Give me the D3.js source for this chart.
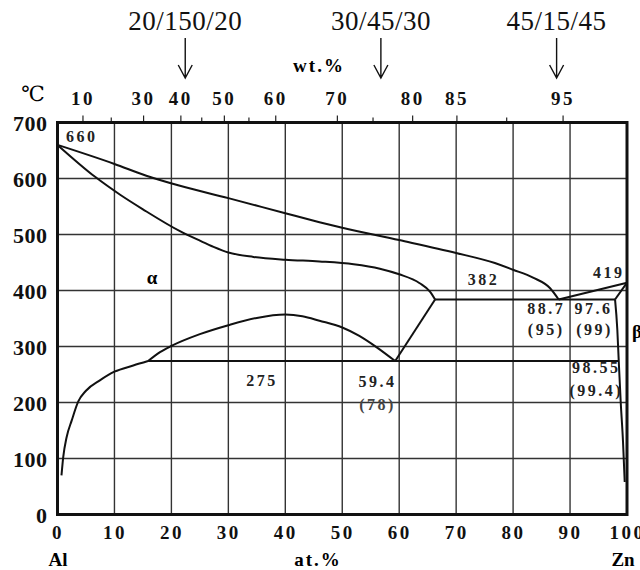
<!DOCTYPE html>
<html>
<head>
<meta charset="utf-8">
<script src="https://cdn.jsdelivr.net/npm/d3@7"></script>
<style>
  body { margin: 0; background: #fff; }
  svg { display: block; font-family: "Liberation Serif", "Times New Roman", serif; }
</style>
</head>
<body>
<svg id="chart" width="640" height="570"></svg>
<script>
// Al-Zn phase diagram (at.% Zn, temperature in C)
const atTicks = [0, 10, 20, 30, 40, 50, 60, 70, 80, 90, 100];
const tempTicks = [0, 100, 200, 300, 400, 500, 600, 700];
const wtMajor = [10, 30, 40, 50, 60, 70, 80, 85, 95];
const wtMinor = [20, 45, 55, 75, 90];

const alloyNames = ["20/150/20", "30/45/30", "45/15/45"];
const alloyWt = [41.2, 76.1, 94.5];

const liquidus = [[0, 660], [10, 626], [15.6, 605], [21.5, 587], [30, 565], [40, 538], [46, 522],
  [50, 512], [60, 490], [70, 467], [76.8, 449], [80, 437], [83.5, 423], [86.5, 404], [88, 384]];
const solidusAl = [[0, 660], [6.6, 603], [11, 571], [15, 545], [21.5, 506], [25, 489], [27.4, 478],
  [30, 468], [34.4, 460], [40, 455], [46, 452], [52, 447], [56.6, 439], [60, 429], [63.6, 413],
  [65.4, 398], [66.3, 384]];
const solvusAl = [[0.7, 70], [1.0, 102], [1.6, 138], [2.5, 168], [3.65, 202], [5, 221], [7.5, 240],
  [10, 255], [13.3, 266], [15.9, 274]];
const gapDome = [[15.9, 274], [18, 290], [20, 301], [25, 322], [30, 338], [35, 351], [40, 357],
  [43, 354], [46, 346], [50, 334], [53, 319], [56, 299], [59.3, 274]];
const eutectoidRise = [[59.3, 274], [66.3, 384]];
const liquidusZn = [[88, 384], [100, 414]];
const solidusZn = [[100, 414], [97.9, 384]];
const solvusZn = [[97.9, 384], [98.3, 330], [98.55, 274], [98.9, 200], [99.3, 130], [99.6, 58]];
const isotherms = [[[66.3, 384], [97.9, 384]], [[15.9, 274], [98.55, 274]]];

// labels inside the plot: [at.%, temperature, text, anchor]
const notes = [
  [1.5, 666, "660", "start"], [74.8, 410, "382", "middle"], [96.8, 423, "419", "middle"],
  [35.9, 229, "275", "middle"], [56.2, 228, "59.4", "middle"], [56.2, 186, "(78)", "middle"],
  [85.8, 358, "88.7", "middle"], [85.8, 320, "(95)", "middle"],
  [94.1, 358, "97.6", "middle"], [94.3, 320, "(99)", "middle"],
  [94.6, 252, "98.55", "middle"], [94.6, 211, "(99.4)", "middle"]
];

const svg = d3.select("#chart");
const x = d3.scaleLinear().domain([0, 100]).range([57.5, 627]);
const y = d3.scaleLinear().domain([0, 700]).range([514.5, 122.5]);

// wt.% Zn -> at.% Zn
const wtToAt = w => {
  const zn = w / 65.38, al = (100 - w) / 26.98;
  return 100 * zn / (zn + al);
};

// grid
svg.append("g").selectAll("line").data(atTicks.slice(1, -1)).join("line")
  .attr("x1", d => x(d)).attr("x2", d => x(d))
  .attr("y1", y(0)).attr("y2", y(700))
  .attr("stroke", "#333").attr("stroke-width", 1.4);
svg.append("g").selectAll("line").data(tempTicks.slice(1, -1)).join("line")
  .attr("y1", d => y(d)).attr("y2", d => y(d))
  .attr("x1", x(0)).attr("x2", x(100))
  .attr("stroke", "#333").attr("stroke-width", 1.4);

// axes
const axLeft = svg.append("g").attr("transform", `translate(${x(0) - 10},0)`)
  .call(d3.axisLeft(y).tickValues(tempTicks).tickSize(0).tickPadding(0));
const axBottom = svg.append("g").attr("transform", `translate(0,${y(0) + 7})`)
  .call(d3.axisBottom(x).tickValues(atTicks).tickSize(0).tickPadding(0));
const axTop = svg.append("g").attr("transform", `translate(0,${y(700)})`)
  .call(d3.axisTop(x).tickValues(wtMajor.map(wtToAt)).tickSize(7).tickPadding(11)
    .tickFormat((d, i) => wtMajor[i]));
const axTopMinor = svg.append("g").attr("transform", `translate(0,${y(700)})`)
  .call(d3.axisTop(x).tickValues(wtMinor.map(wtToAt)).tickSize(5).tickFormat(""));

[axLeft, axBottom, axTop, axTopMinor].forEach(g => {
  g.select(".domain").remove();
  g.selectAll(".tick line").attr("stroke", "#222").attr("stroke-width", 1.2);
  g.selectAll("text").attr("fill", "#111").attr("font-family", "Liberation Serif, serif")
    .attr("font-weight", "bold");
});
axLeft.selectAll("text").attr("font-size", 22).attr("letter-spacing", 0.5).attr("dy", "0.35em");
axBottom.selectAll("text").attr("font-size", 19).attr("letter-spacing", 2.5).attr("dy", "0.9em");
axTop.selectAll("text").attr("font-size", 19).attr("letter-spacing", 2.5).attr("dy", 0);

// frame
svg.append("rect")
  .attr("x", x(0)).attr("y", y(700))
  .attr("width", x(100) - x(0)).attr("height", y(0) - y(700))
  .attr("fill", "none").attr("stroke", "#111").attr("stroke-width", 3);

// phase boundaries
const smooth = d3.line().x(d => x(d[0])).y(d => y(d[1])).curve(d3.curveMonotoneX);
const straight = d3.line().x(d => x(d[0])).y(d => y(d[1]));
const curves = [liquidus, solidusAl, solvusAl, gapDome];
svg.append("g").selectAll("path").data(curves).join("path")
  .attr("d", smooth).attr("fill", "none").attr("stroke", "#111").attr("stroke-width", 2);
svg.append("g").selectAll("path")
  .data([eutectoidRise, liquidusZn, solidusZn, solvusZn, ...isotherms]).join("path")
  .attr("d", d => d.length > 2 ? smooth(d) : straight(d))
  .attr("fill", "none").attr("stroke", "#111").attr("stroke-width", 2);

// point labels
svg.append("g").selectAll("text").data(notes).join("text")
  .attr("x", d => x(d[0])).attr("y", d => y(d[1]))
  .attr("text-anchor", d => d[3])
  .attr("font-size", 16).attr("font-weight", "bold").attr("letter-spacing", 2.5)
  .attr("fill", d => d[2] === "(78)" ? "#444" : "#222")
  .text(d => d[2]);

svg.append("text").attr("x", x(16.6)).attr("y", y(411))
  .attr("text-anchor", "middle").attr("font-size", 19).attr("font-weight", "bold")
  .text("α");
svg.append("text").attr("x", 632).attr("y", 338)
  .attr("font-size", 19).attr("font-weight", "bold").text("β");

// axis names
svg.append("text").attr("x", 33).attr("y", 101).attr("text-anchor", "middle")
  .attr("font-size", 21).attr("font-family", "DejaVu Serif, serif").text("℃");
svg.append("text").attr("x", 319).attr("y", 72).attr("text-anchor", "middle")
  .attr("font-size", 19).attr("font-weight", "bold").attr("letter-spacing", 2).text("wt.%");
svg.append("text").attr("x", 318).attr("y", 566).attr("text-anchor", "middle")
  .attr("font-size", 19).attr("font-weight", "bold").attr("letter-spacing", 2).text("at.%");
svg.append("text").attr("x", 58).attr("y", 566).attr("text-anchor", "middle")
  .attr("font-size", 19).attr("font-weight", "bold").text("Al");
svg.append("text").attr("x", 623).attr("y", 566).attr("text-anchor", "middle")
  .attr("font-size", 19).attr("font-weight", "bold").text("Zn");

// alloy markers on top
const alloys = svg.append("g").selectAll("g").data(alloyWt).join("g")
  .attr("transform", d => `translate(${x(wtToAt(d))},0)`);
alloys.append("text").attr("y", 30).attr("text-anchor", "middle")
  .attr("font-size", 27).attr("letter-spacing", 0.5).attr("fill", "#111")
  .text((d, i) => alloyNames[i]);
alloys.append("path")
  .attr("d", "M0,38V78M-7,65L0,78L7,65")
  .attr("fill", "none").attr("stroke", "#111").attr("stroke-width", 1.4);
</script>
</body>
</html>
